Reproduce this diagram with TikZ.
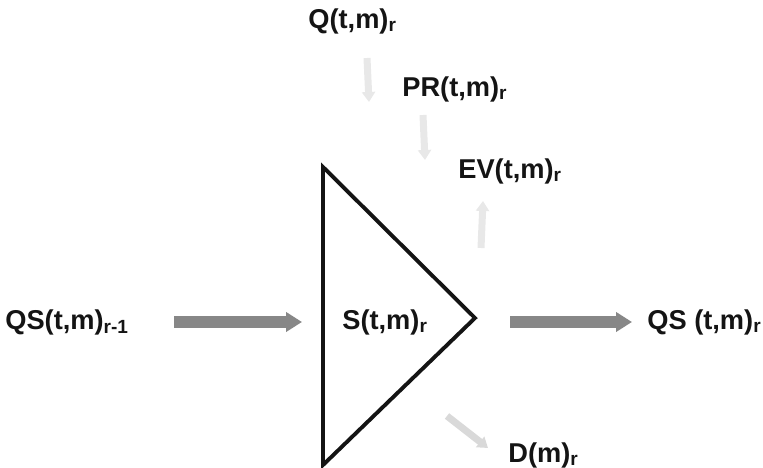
\documentclass[tikz,border=0pt]{standalone}
\usepackage{fontspec}
\setmainfont{Liberation Sans}
\usetikzlibrary{arrows.meta,positioning,calc}
\definecolor{ink}{RGB}{20,20,20}
\definecolor{haze}{RGB}{135,135,135}
\definecolor{mist}{RGB}{232,232,232}
\tikzset{
  >={Triangle[length=3.2mm,width=3.8mm]},
  lbl/.style={font=\fontsize{15.5}{18}\selectfont\bfseries,text=ink,inner sep=0pt,anchor=west},
  flow/.style={->,line width=2.4mm,draw=#1},
  flow/.default=haze,
  trickle/.style={-{Triangle[length=2mm,width=2.6mm]},line width=1.4mm,draw=#1},
  trickle/.default=mist,
  bank/.style={draw=ink,line width=2.2pt,line join=miter},
}
\begin{document}
\begin{tikzpicture}
  \useasboundingbox (0,0) rectangle (15.26,-9.36);
  % reservoir
  \coordinate (top) at (6.46,-3.34);
  \coordinate (bot) at (6.46,-9.30);
  \coordinate (tip) at (9.50,-6.36);
  \coordinate (side) at (6.46,-6.44);
  \draw[bank] (top) -- (tip) -- (bot) -- cycle;
  \node[lbl] (s) at (6.84,-6.44) {S(t,m)\textsubscript{r}};
  % labels
  \node[lbl] (qin) at (0.10,-6.44) {QS(t,m)\textsubscript{r-1}};
  \node[lbl] (qout) at (12.94,-6.44) {QS (t,m)\textsubscript{r}};
  \node[lbl] (q) at (6.16,-0.42) {Q(t,m)\textsubscript{r}};
  \node[lbl] (pr) at (8.04,-1.78) {PR(t,m)\textsubscript{r}};
  \node[lbl] (ev) at (9.16,-3.42) {EV(t,m)\textsubscript{r}};
  \node[lbl] (d) at (10.16,-9.10) {D(m)\textsubscript{r}};
  % main flow
  \draw[flow] (qin.east) -- (side) [shorten <=0.9cm,shorten >=0.42cm];
  \draw[flow] (tip |- qout.west) -- (qout.west) [shorten <=0.7cm,shorten >=0.3cm];
  % side flows
  \coordinate (qa) at (7.34,-1.16);
  \coordinate (qb) at (7.38,-2.04);
  \coordinate (pa) at (8.46,-2.30);
  \coordinate (pb) at (8.50,-3.20);
  \coordinate (ea) at (9.62,-4.96);
  \coordinate (eb) at (9.66,-4.02);
  \coordinate (da) at (8.94,-8.32);
  \coordinate (db) at (9.76,-8.96);
  \draw[trickle] (qa) -- (qb);
  \draw[trickle] (pa) -- (pb);
  \draw[trickle] (ea) -- (eb);
  \draw[trickle=gray!30] (da) -- (db);
\end{tikzpicture}
\end{document}
